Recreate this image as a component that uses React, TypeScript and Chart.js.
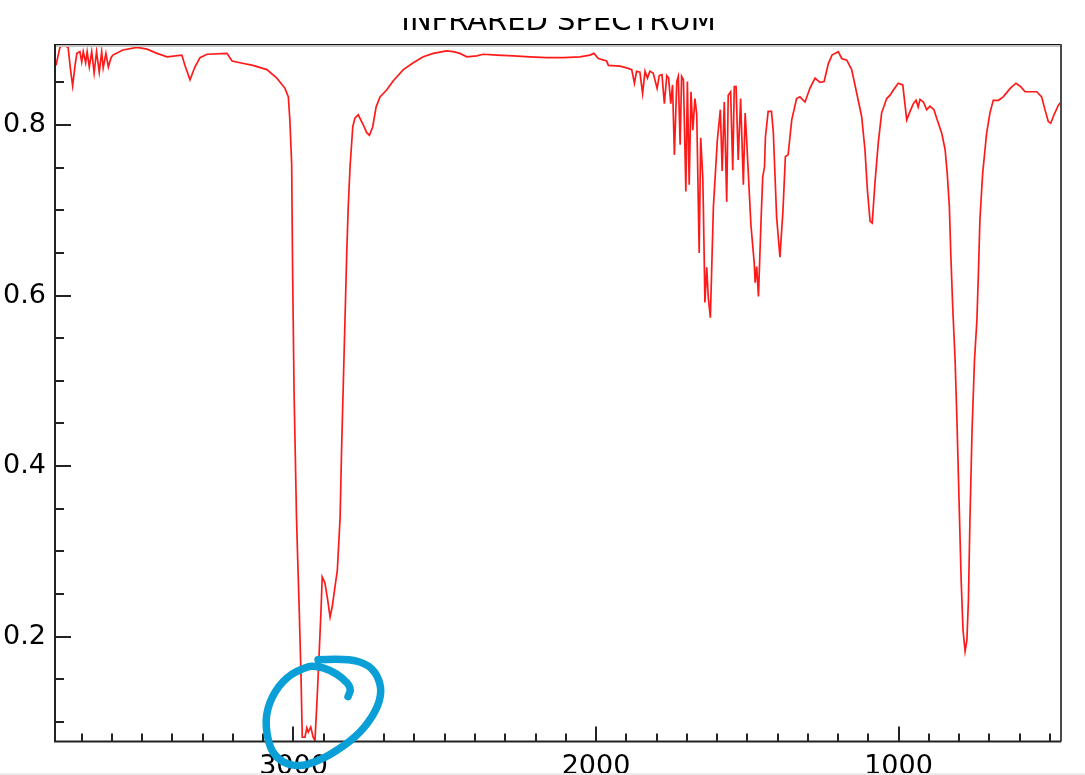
import React, { useEffect, useRef } from "react";
import { Chart, registerables } from "chart.js";

Chart.register(...registerables);

const TITLE = "INFRARED SPECTRUM";

// wavenumber (cm-1), descending
const WAVENUMBER = [
  3785, 3772, 3759, 3745, 3737, 3730, 3722, 3716, 3706, 3700,
  3695, 3687, 3682, 3675, 3667, 3659, 3651, 3642, 3634, 3629,
  3620, 3612, 3603, 3597, 3564, 3517, 3484, 3451, 3418, 3369,
  3359, 3342, 3326, 3309, 3286, 3220, 3203, 3177, 3134, 3088,
  3055, 3028, 3017, 3012, 3006, 3003, 2998, 2990, 2986, 2981,
  2975, 2971, 2962, 2956, 2951, 2943, 2935, 2929, 2921, 2915,
  2909, 2905, 2896, 2887, 2879, 2872, 2863, 2855, 2846, 2841,
  2835, 2828, 2824, 2819, 2813, 2804, 2797, 2786, 2769, 2758,
  2749, 2738, 2727, 2714, 2692, 2670, 2637, 2604, 2571, 2538,
  2494, 2472, 2450, 2427, 2394, 2373, 2328, 2273, 2218, 2163,
  2108, 2053, 2020, 2007, 1992, 1965, 1959, 1921, 1899, 1882,
  1873, 1866, 1855, 1846, 1838, 1830, 1822, 1811, 1798, 1791,
  1782, 1774, 1766, 1760, 1753, 1747, 1741, 1733, 1728, 1722,
  1717, 1711, 1703, 1698, 1692, 1686, 1680, 1673, 1667, 1659,
  1654, 1647, 1645, 1640, 1634, 1629, 1622, 1612, 1599, 1589,
  1583, 1576, 1568, 1563, 1555, 1548, 1543, 1537, 1530, 1522,
  1513, 1507, 1502, 1488, 1477, 1474, 1469, 1463, 1455, 1449,
  1443, 1440, 1431, 1420, 1414, 1403, 1392, 1382, 1374, 1365,
  1353, 1337, 1326, 1309, 1293, 1276, 1260, 1246, 1232, 1220,
  1210, 1199, 1188, 1171, 1155, 1138, 1122, 1111, 1103, 1094,
  1087, 1078, 1067, 1056, 1039, 1028, 1017, 1001, 986, 979,
  973, 962, 951, 942, 935, 929, 918, 907, 896, 883,
  872, 857, 846, 839, 832, 827, 821, 813, 807, 800,
  793, 787, 780, 774, 769, 764, 757, 749, 741, 736,
  731, 722, 709, 698, 687, 670, 654, 631, 612, 596,
  582, 543, 527, 516, 505, 497, 486, 472, 463,
];

const TRANSMITTANCE = [
  0.870, 0.891, 0.894, 0.891, 0.865, 0.846, 0.870, 0.884, 0.886, 0.874,
  0.886, 0.873, 0.886, 0.868, 0.886, 0.861, 0.886, 0.862, 0.886, 0.867,
  0.884, 0.868, 0.879, 0.882, 0.888, 0.891, 0.889, 0.884, 0.880, 0.882,
  0.870, 0.853, 0.868, 0.879, 0.883, 0.884, 0.875, 0.873, 0.870, 0.865,
  0.855, 0.843, 0.833, 0.806, 0.754, 0.632, 0.486, 0.339, 0.290, 0.231,
  0.152, 0.082, 0.082, 0.093, 0.088, 0.094, 0.082, 0.078, 0.134, 0.181,
  0.231, 0.270, 0.263, 0.243, 0.223, 0.235, 0.258, 0.278, 0.339, 0.419,
  0.501, 0.595, 0.650, 0.704, 0.751, 0.798, 0.808, 0.812, 0.800, 0.791,
  0.788, 0.798, 0.821, 0.833, 0.841, 0.852, 0.865, 0.873, 0.880, 0.884,
  0.887, 0.886, 0.884, 0.880, 0.881, 0.883, 0.882, 0.881, 0.880, 0.879,
  0.879, 0.880, 0.882, 0.884, 0.878, 0.875, 0.870, 0.869, 0.867, 0.865,
  0.849, 0.863, 0.862, 0.837, 0.863, 0.855, 0.863, 0.861, 0.843, 0.858,
  0.859, 0.825, 0.858, 0.855, 0.825, 0.847, 0.765, 0.851, 0.857, 0.777,
  0.857, 0.853, 0.722, 0.851, 0.730, 0.839, 0.794, 0.831, 0.812, 0.650,
  0.785, 0.738, 0.700, 0.592, 0.633, 0.598, 0.574, 0.704, 0.782, 0.818,
  0.746, 0.827, 0.710, 0.835, 0.839, 0.747, 0.845, 0.845, 0.759, 0.831,
  0.730, 0.814, 0.782, 0.683, 0.638, 0.615, 0.634, 0.599, 0.683, 0.739,
  0.751, 0.786, 0.816, 0.816, 0.792, 0.692, 0.645, 0.700, 0.763, 0.765,
  0.806, 0.831, 0.833, 0.827, 0.843, 0.855, 0.850, 0.851, 0.872, 0.882,
  0.884, 0.886, 0.878, 0.876, 0.865, 0.837, 0.810, 0.771, 0.724, 0.687,
  0.685, 0.732, 0.779, 0.814, 0.831, 0.835, 0.841, 0.849, 0.847, 0.825,
  0.806, 0.816, 0.825, 0.829, 0.821, 0.830, 0.827, 0.818, 0.822, 0.818,
  0.806, 0.790, 0.771, 0.743, 0.704, 0.646, 0.587, 0.524, 0.454, 0.360,
  0.266, 0.208, 0.183, 0.196, 0.243, 0.337, 0.442, 0.524, 0.571, 0.626,
  0.689, 0.743, 0.790, 0.814, 0.829, 0.829, 0.833, 0.843, 0.849, 0.845,
  0.839, 0.839, 0.833, 0.818, 0.804, 0.802, 0.812, 0.823, 0.827,
];

const X_MIN = 463;
const X_MAX = 3785;
const Y_MIN = 0.077;
const Y_MAX = 0.895;
const X_MAJOR_TICKS = [1000, 2000, 3000];
const X_MINOR_FROM = 500;
const X_MINOR_TO = 3700;
const X_MINOR_STEP = 100;
const Y_MAJOR_TICKS = [0.2, 0.4, 0.6, 0.8];
const Y_MINOR_TICKS = [0.1, 0.15, 0.25, 0.3, 0.35, 0.45, 0.5, 0.55, 0.65, 0.7, 0.75, 0.85];

// hand-drawn note: anchored at a data point, stroke given as pixel offsets
const NOTE_ANCHOR = { x: 2900, y: 0.12 };
const NOTE_STROKE = [
  [-5.7, -45], [22.7, -46.7], [46, -40], [56, -25], [57.7, -8.3], [49.3, 11.7],
  [32.7, 31.7], [9.3, 48.3], [-7.3, 56.7], [-24, 61.7], [-40.7, 58.3], [-54, 45],
  [-59, 15], [-52.3, -8.3], [-37.3, -28.3], [-17.3, -38.3], [-7.3, -39], [6, -35],
  [19.3, -26.7], [27.7, -16.7], [24.3, -8.3],
];

const FONT = "'DejaVu Sans', 'Liberation Sans', sans-serif";

const framePlugin = {
  id: "frame",
  afterDatasetsDraw(chart: any) {
    const { ctx, chartArea: a, scales } = chart;
    const xs = scales.x;
    const ys = scales.y;
    ctx.save();
    // top border
    ctx.fillStyle = "#c4c4c4";
    ctx.fillRect(a.left, a.top + 1, a.right - a.left, 2);
    ctx.fillStyle = "#111";
    ctx.fillRect(a.left, a.top, a.right - a.left, 1);
    // right border
    ctx.fillStyle = "#4a4a4a";
    ctx.fillRect(a.right - 1, a.top, 2, a.bottom - a.top);

    // ticks
    ctx.strokeStyle = "#222";
    ctx.lineWidth = 2;
    ctx.beginPath();
    for (let w = X_MINOR_FROM; w <= X_MINOR_TO; w += X_MINOR_STEP) {
      const px = Math.round(xs.getPixelForValue(w));
      const len = X_MAJOR_TICKS.includes(w) ? 15 : 8;
      ctx.moveTo(px, a.bottom);
      ctx.lineTo(px, a.bottom - len);
    }
    for (const v of Y_MAJOR_TICKS) {
      const py = Math.round(ys.getPixelForValue(v));
      ctx.moveTo(a.left, py);
      ctx.lineTo(a.left + 15, py);
    }
    for (const v of Y_MINOR_TICKS) {
      const py = Math.round(ys.getPixelForValue(v));
      ctx.moveTo(a.left, py);
      ctx.lineTo(a.left + 8, py);
    }
    ctx.stroke();

    // axes
    ctx.strokeStyle = "#222";
    ctx.lineWidth = 2;
    ctx.beginPath();
    ctx.moveTo(a.left - 1, a.top);
    ctx.lineTo(a.left - 1, a.bottom + 1);
    ctx.moveTo(a.left - 2, a.bottom);
    ctx.lineTo(a.right, a.bottom);
    ctx.stroke();
    ctx.restore();
  },
  afterDraw(chart: any) {
    const { ctx, chartArea: a, scales, width, height } = chart;
    ctx.save();
    // title, clipped at the top as in the picture
    ctx.fillStyle = "#000";
    ctx.font = `29px ${FONT}`;
    ctx.textAlign = "center";
    ctx.textBaseline = "alphabetic";
    ctx.fillText(TITLE, (a.left + a.right) / 2, 30);
    ctx.fillStyle = "#fff";
    ctx.fillRect(0, 0, width, 18);
    // bottom grey edge
    ctx.fillStyle = "#ececec";
    ctx.fillRect(0, height - 2, width, 2);

    // blue hand-drawn note
    const cx = scales.x.getPixelForValue(NOTE_ANCHOR.x);
    const cy = scales.y.getPixelForValue(NOTE_ANCHOR.y);
    const pts = NOTE_STROKE.map(([dx, dy]) => [cx + dx, cy + dy]);
    ctx.strokeStyle = "#0a9fd6";
    ctx.lineWidth = 7.5;
    ctx.lineCap = "round";
    ctx.lineJoin = "round";
    ctx.beginPath();
    ctx.moveTo(pts[0][0], pts[0][1]);
    for (let i = 1; i < pts.length - 1; i++) {
      const mx = (pts[i][0] + pts[i + 1][0]) / 2;
      const my = (pts[i][1] + pts[i + 1][1]) / 2;
      ctx.quadraticCurveTo(pts[i][0], pts[i][1], mx, my);
    }
    const last = pts[pts.length - 1];
    ctx.lineTo(last[0], last[1]);
    ctx.stroke();
    ctx.restore();
  },
};

export default function App() {
  const canvasRef = useRef<HTMLCanvasElement | null>(null);

  useEffect(() => {
    if (!canvasRef.current) return;
    const n = Math.min(WAVENUMBER.length, TRANSMITTANCE.length);
    const points = [];
    for (let i = 0; i < n; i++) points.push({ x: WAVENUMBER[i], y: TRANSMITTANCE[i] });

    const chart = new Chart(canvasRef.current, {
      type: "line",
      data: {
        datasets: [
          {
            data: points,
            borderColor: "#ff1a1a",
            borderWidth: 1.7,
            pointRadius: 0,
            tension: 0,
            fill: false,
          },
        ],
      },
      options: {
        animation: false,
        responsive: false,
        devicePixelRatio: 1,
        layout: { padding: { top: 44, right: 24, left: 0, bottom: 0 } },
        plugins: {
          legend: { display: false },
          tooltip: { enabled: false },
          title: { display: false },
        },
        scales: {
          x: {
            type: "linear",
            reverse: true,
            min: X_MIN,
            max: X_MAX,
            grid: { display: false, drawTicks: false },
            border: { display: false },
            afterBuildTicks: (s: any) => {
              s.ticks = X_MAJOR_TICKS.map((value) => ({ value }));
            },
            afterFit: (s: any) => {
              s.height = 33.5;
            },
            ticks: {
              padding: 9,
              color: "#000",
              font: { family: FONT, size: 27 },
              maxRotation: 0,
              autoSkip: false,
              callback: (v: any) => String(v),
            },
          },
          y: {
            type: "linear",
            min: Y_MIN,
            max: Y_MAX,
            grid: { display: false, drawTicks: false },
            border: { display: false },
            afterBuildTicks: (s: any) => {
              s.ticks = Y_MAJOR_TICKS.map((value) => ({ value }));
            },
            afterFit: (s: any) => {
              s.width = 56;
            },
            ticks: {
              padding: 10,
              color: "#000",
              font: { family: FONT, size: 27 },
              autoSkip: false,
              callback: (v: any) => Number(v).toFixed(1),
            },
          },
        },
      },
      plugins: [framePlugin],
    });
    return () => chart.destroy();
  }, []);

  return (
    <div
      style={{
        position: "absolute",
        left: 0,
        top: 0,
        width: 1085,
        height: 775,
        background: "#fff",
        overflow: "hidden",
      }}
    >
      <canvas ref={canvasRef} width={1085} height={775} style={{ display: "block" }} />
    </div>
  );
}
